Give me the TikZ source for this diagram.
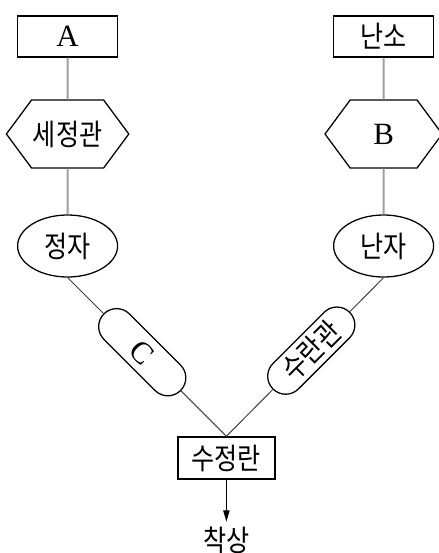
\documentclass[tikz,border=0pt]{standalone}
\usepackage{fontspec}
\setmainfont{Liberation Serif}
\newfontfamily\kr[FakeStretch=0.85]{Noto Sans CJK KR}
\usetikzlibrary{positioning,shapes.geometric,shapes.symbols,shapes.misc,calc,arrows.meta}
\begin{document}
\begin{tikzpicture}[
  box/.style={rectangle, draw, line width=1pt, minimum width=2.5cm, minimum height=1.03cm, inner sep=1pt},
  hexa/.style={signal, signal to=west and east, signal pointer angle=107, draw, line width=0.9pt, minimum width=2.93cm, minimum height=1.7cm, inner sep=1pt},
  egg/.style={ellipse, draw, line width=0.9pt, minimum width=2.5cm, minimum height=1.55cm, inner sep=1pt},
  capsule/.style={rounded rectangle, draw, fill=white, line width=0.9pt, minimum width=2.78cm, minimum height=0.9cm, inner sep=1pt},
  stem/.style={draw=gray!75, line width=1.4pt},
  tube/.style={draw=black!75, line width=0.7pt},
  latin/.style={font=\fontsize{22}{24}\selectfont},
  korean/.style={font=\kr\fontsize{21}{23}\selectfont}
]
\useasboundingbox (0,0) rectangle (10.975,-13.825);

% left branch
\node[box, latin] (A) at (1.69,-0.91) {A};
\node[hexa, korean, below of=A, node distance=2.44cm] (sejeong) {세정관};
\node[egg, korean, below of=sejeong, node distance=2.8cm] (jeongja) {정자};

% right branch
\node[box, korean, right of=A, node distance=7.9cm] (nanso) {난소};
\node[hexa, latin, below of=nanso, node distance=2.44cm] (B) {B};
\node[egg, korean, below of=B, node distance=2.8cm] (nanja) {난자};

% joining
\node[box, korean, minimum width=2.43cm, minimum height=1.05cm] (zygote) at (5.66,-11.45) {수정란};
\node[korean, below of=zygote, node distance=2.05cm] (implant) {착상};

\node[capsule, latin, rotate=-45] (C) at ($(jeongja.south)!0.47!(zygote.north)$) {C};
\node[capsule, korean, rotate=45] (sugwan) at ($(nanja.south)!0.46!(zygote.north)$) {수란관};

\draw[stem] (A) -- (sejeong);
\draw[stem] (sejeong) -- (jeongja);
\draw[stem] (nanso) -- (B);
\draw[stem] (B) -- (nanja);

\draw[tube] (jeongja.south) -- (C);
\draw[tube] (C) -- (zygote.north);
\draw[tube] (nanja.south) -- (sugwan);
\draw[tube] (sugwan) -- (zygote.north);

\draw[-{Triangle[width=4.5pt,length=8pt]}, line width=0.7pt] (zygote) -- (implant);
\end{tikzpicture}
\end{document}
